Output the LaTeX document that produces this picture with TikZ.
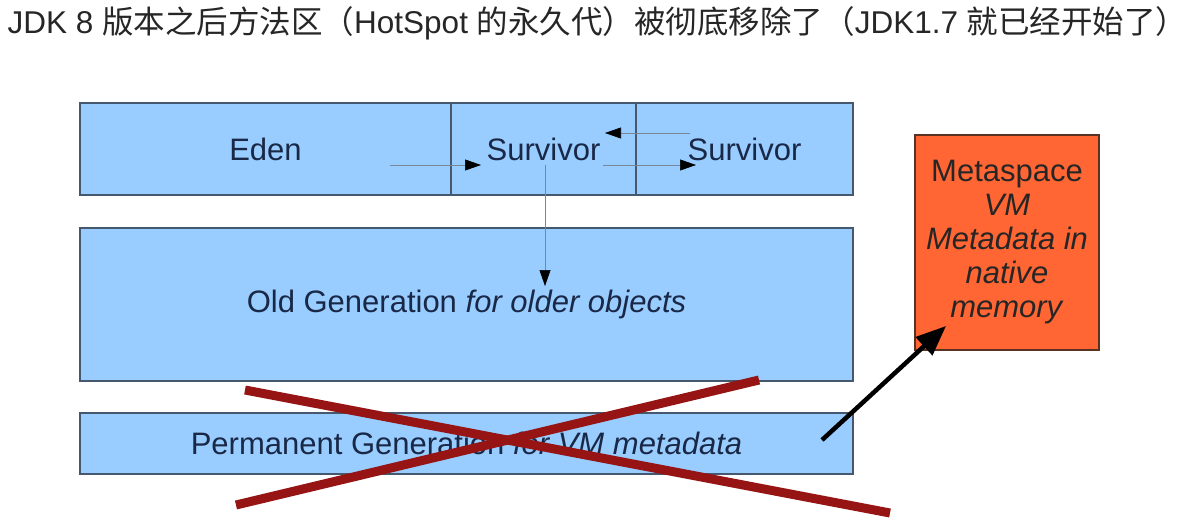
\documentclass[tikz,border=0pt]{standalone}
\usepackage{fontspec}
\setmainfont{Liberation Sans}
\newfontfamily\cjk{Noto Sans CJK SC}
\usetikzlibrary{arrows.meta}
\definecolor{boxblue}{RGB}{153,204,255}
\definecolor{boxline}{RGB}{70,88,110}
\definecolor{txt}{RGB}{25,40,70}
\definecolor{metaor}{RGB}{255,102,51}
\definecolor{metaline}{RGB}{90,50,35}
\definecolor{crossred}{RGB}{150,20,20}
\definecolor{thin}{RGB}{120,135,155}
\tikzset{
  mem/.style={draw=boxline, fill=boxblue, line width=1.6pt, inner sep=0pt, text=txt,
    font=\fontsize{31}{34}\selectfont},
  meta/.style={draw=metaline, fill=metaor, line width=1.4pt, inner sep=0pt, align=center,
    font=\fontsize{31}{34}\selectfont, text=black!85},
  flow/.style={draw=thin, line width=0.6pt, -{Triangle[color=black, length=16pt, width=11pt]}},
  bigarrow/.style={line width=4.5pt, -{Triangle[length=30pt, width=24pt]}},
  crossline/.style={draw=crossred, line width=9pt},
}
\begin{document}
\begin{tikzpicture}[x=1pt,y=-1pt]
\useasboundingbox[fill=white] (0,0) rectangle (1194,530);
\node[anchor=center, font=\fontsize{31.5}{36}\selectfont, text=black!85] (title) at (597.5,23)
  {JDK 8 {\cjk 版本之后方法区（}HotSpot {\cjk 的永久代）被彻底移除了（}JDK1.7 {\cjk 就已经开始了）}};

\node[mem, minimum width=371pt, minimum height=92pt] (eden) at (265.5,149) {Eden};
\node[mem, minimum width=185pt, minimum height=92pt] (s0) at (543.5,149) {Survivor};
\node[mem, minimum width=217pt, minimum height=92pt] (s1) at (744.5,149) {Survivor};
\node[mem, minimum width=773pt, minimum height=153pt] (old) at (466.5,304.5) {Old Generation \textit{for older objects}};
\node[mem, minimum width=773pt, minimum height=61pt] (perm) at (466.5,443.5) {Permanent Generation \textit{for VM metadata}};
\node[meta, minimum width=184pt, minimum height=215pt] (metasp) at (1007,242.5)
  {Metaspace\\\textit{VM}\\\textit{Metadata in}\\\textit{native}\\\textit{memory}};

\coordinate (e1) at (390,165);
\coordinate (e2) at (481,165);
\coordinate (a1) at (690,133);
\coordinate (a2) at (605,133);
\coordinate (b1) at (603,165);
\coordinate (b2) at (696,165);
\coordinate (v1) at (545,165);
\coordinate (v2) at (545,286);
\draw[flow] (e1) -- (e2);
\draw[flow] (a1) -- (a2);
\draw[flow] (b1) -- (b2);
\draw[flow] (v1) -- (v2);

\coordinate (xa1) at (245,390);
\coordinate (xa2) at (890,513);
\coordinate (xb1) at (236,505);
\coordinate (xb2) at (759,380);
\draw[crossline] (xa1) -- (xa2);
\draw[crossline] (xb1) -- (xb2);

\coordinate (p1) at (822,440);
\coordinate (p2) at (946,326);
\draw[bigarrow] (p1) -- (p2);
\end{tikzpicture}
\end{document}
